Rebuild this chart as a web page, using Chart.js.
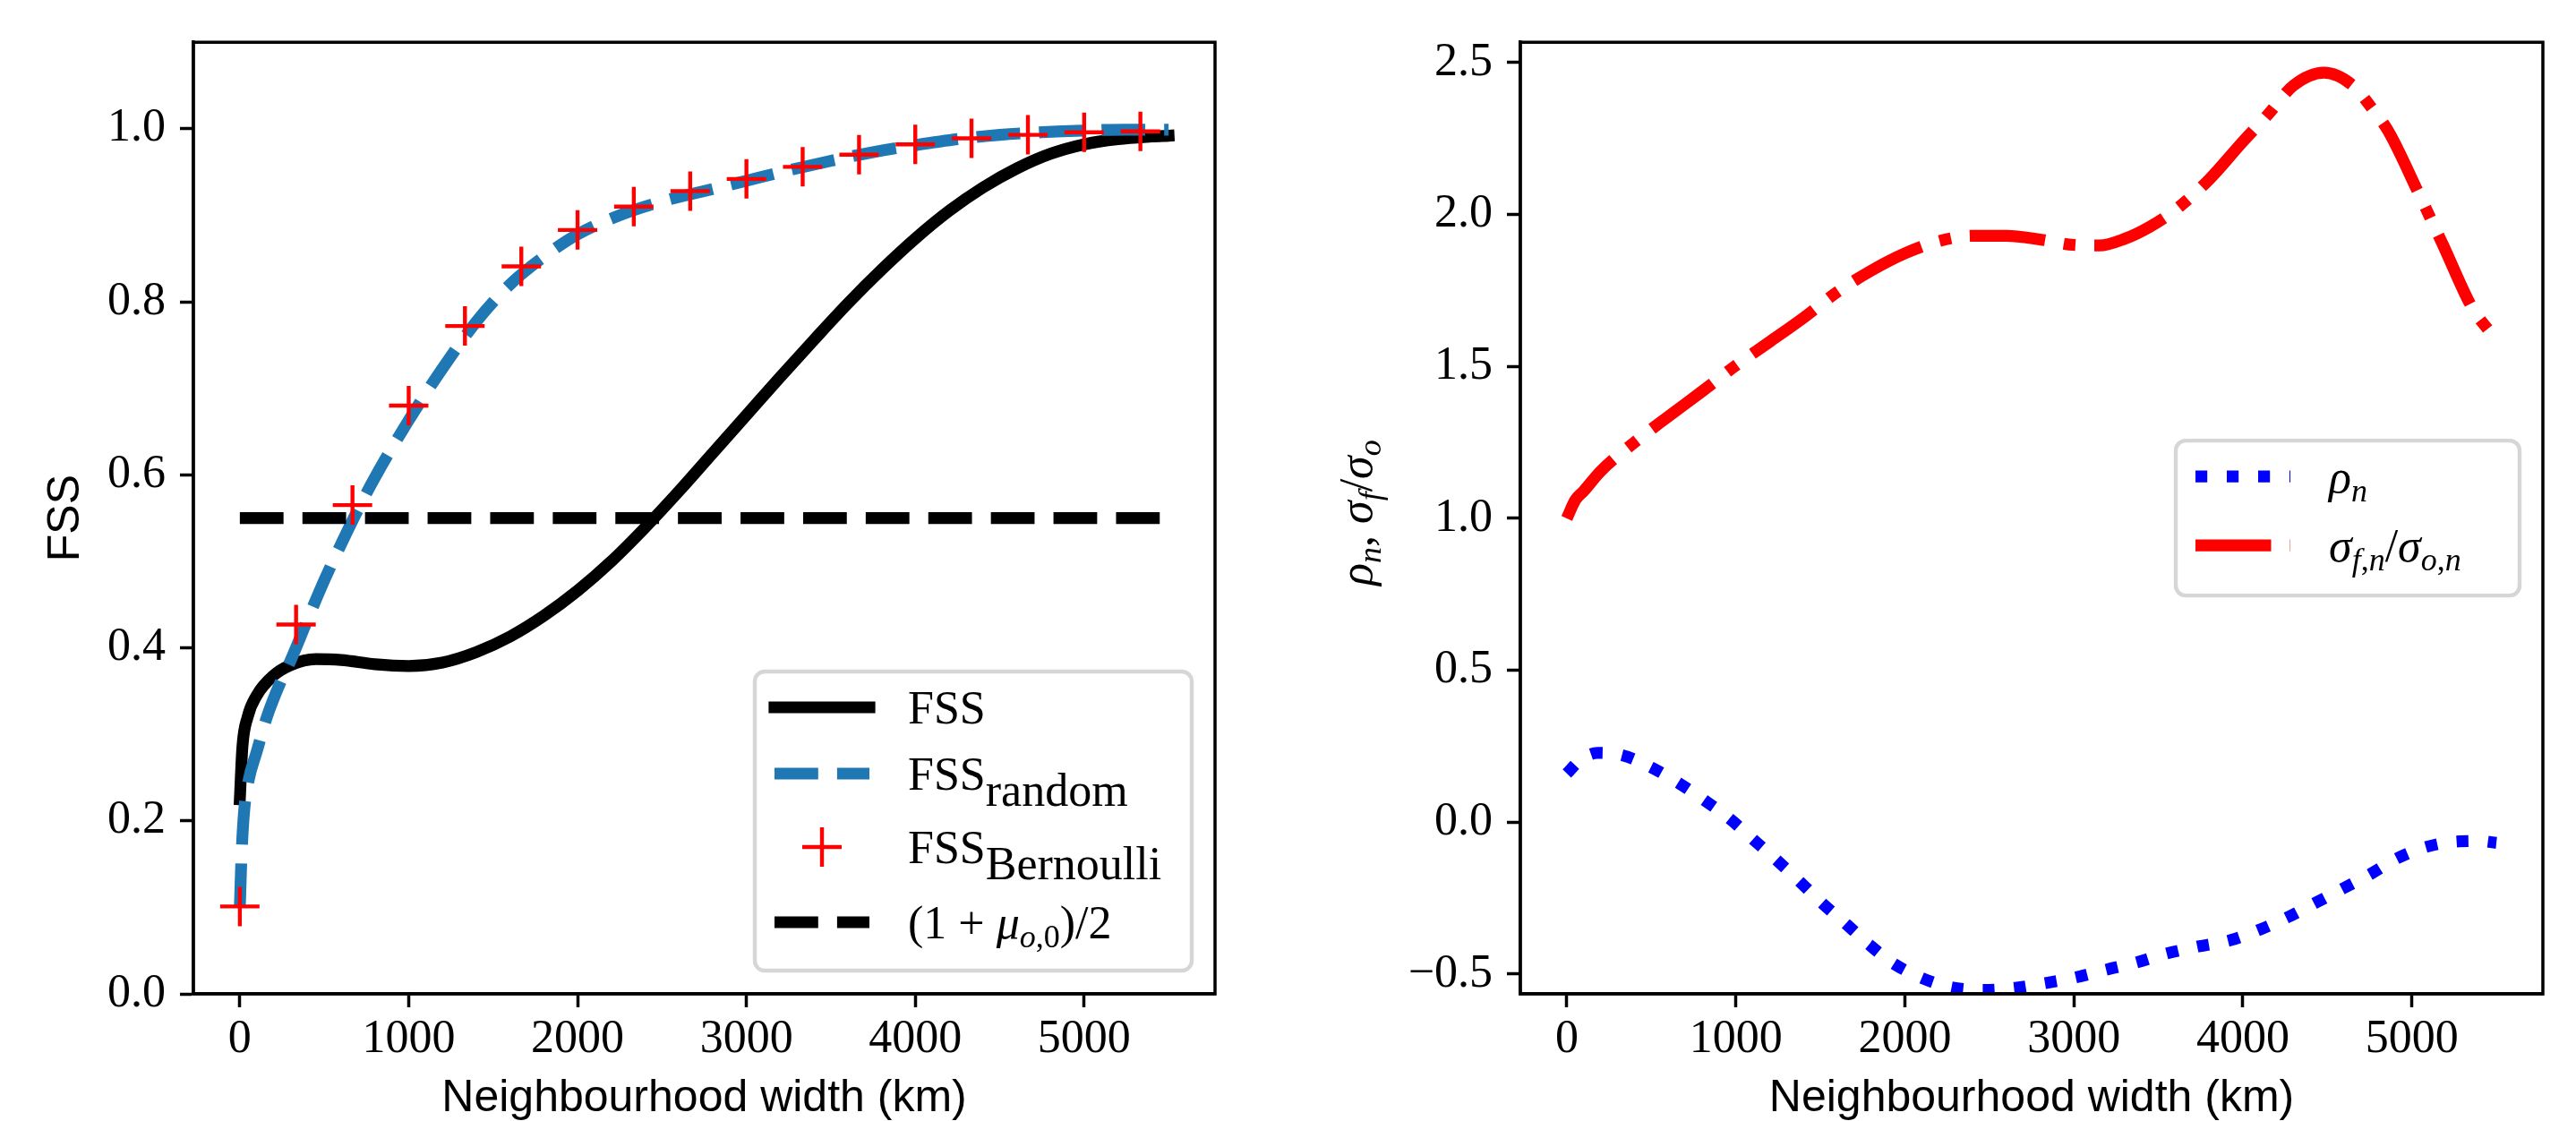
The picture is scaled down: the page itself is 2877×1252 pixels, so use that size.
<!DOCTYPE html>
<html>
<head>
<meta charset="utf-8">
<script src="https://cdn.jsdelivr.net/npm/chart.js@4.4.0/dist/chart.umd.min.js"></script>
<style>
  html, body { margin: 0; padding: 0; background: #fff; overflow: hidden; }
  #wrapL { position: absolute; left: 0; top: 0; width: 1440px; height: 1252px; }
  #wrapR { position: absolute; left: 1440px; top: 0; width: 1437px; height: 1252px; }
</style>
</head>
<body>
<div id="wrapL"><canvas id="fssChart"></canvas></div>
<div id="wrapR"><canvas id="ratioChart"></canvas></div>
<script>
// ---- left panel: FSS vs neighbourhood width ----
var fssX = [0, 15, 46, 100, 200, 300, 450, 600, 800, 1000, 1200, 1400, 1600, 1800, 2000, 2200, 2400, 2600, 2800, 3000, 3200, 3400, 3600, 3800, 4000, 4200, 4400, 4600, 4800, 5000, 5200, 5400, 5500];
var fssY = [0.225, 0.285, 0.32, 0.345, 0.368, 0.38, 0.387, 0.386, 0.381, 0.379, 0.383, 0.395, 0.413, 0.437, 0.466, 0.5, 0.539, 0.581, 0.625, 0.669, 0.713, 0.756, 0.798, 0.837, 0.873, 0.905, 0.932, 0.954, 0.971, 0.982, 0.988, 0.991, 0.992];

var randX = [0, 10, 25, 50, 100, 160, 240, 300, 400, 500, 600, 700, 800, 1000, 1200, 1400, 1600, 1800, 2000, 2250, 2500, 2750, 3000, 3250, 3500, 3750, 4000, 4250, 4500, 4750, 5000, 5250, 5500];
var randY = [0.10, 0.16, 0.21, 0.245, 0.28, 0.32, 0.36, 0.385, 0.432, 0.478, 0.52, 0.56, 0.597, 0.663, 0.723, 0.777, 0.82, 0.852, 0.878, 0.9, 0.916, 0.928, 0.94, 0.952, 0.963, 0.973, 0.981, 0.988, 0.993, 0.996, 0.998, 0.999, 0.999];

var bernX = [0, 333, 667, 1000, 1333, 1667, 2000, 2333, 2667, 3000, 3333, 3667, 4000, 4333, 4667, 5000, 5333];
var bernY = [0.101, 0.427, 0.565, 0.680, 0.772, 0.841, 0.883, 0.910, 0.928, 0.942, 0.956, 0.970, 0.982, 0.989, 0.993, 0.996, 0.997];

var refX = [0, 5500];
var refY = [0.55, 0.55]; // (1 + mu_o,0) / 2

// ---- right panel: rho_n and sigma ratio ----
var rhoX = [0, 80, 180, 330, 500, 670, 814, 960, 1103, 1242, 1377, 1508, 1654, 1789, 1924, 2097, 2270, 2470, 2654, 2828, 3002, 3195, 3369, 3543, 3736, 3929, 4102, 4257, 4431, 4593, 4760, 4913, 5087, 5282, 5400, 5500];
var rhoY = [0.16, 0.205, 0.228, 0.22, 0.18, 0.126, 0.072, 0.013, -0.057, -0.125, -0.195, -0.265, -0.336, -0.403, -0.462, -0.512, -0.543, -0.552, -0.545, -0.53, -0.512, -0.485, -0.462, -0.433, -0.409, -0.388, -0.353, -0.315, -0.265, -0.218, -0.169, -0.119, -0.081, -0.063, -0.062, -0.068];

var sigX = [0, 50, 100, 200, 400, 600, 800, 1000, 1200, 1400, 1600, 1800, 2000, 2200, 2400, 2600, 2800, 3000, 3150, 3300, 3450, 3600, 3800, 4000, 4150, 4300, 4480, 4650, 4770, 4860, 5040, 5180, 5360, 5460];
var sigY = [1.0, 1.06, 1.09, 1.155, 1.25, 1.335, 1.418, 1.503, 1.581, 1.66, 1.745, 1.815, 1.872, 1.912, 1.93, 1.93, 1.918, 1.90, 1.898, 1.92, 1.96, 2.015, 2.115, 2.24, 2.33, 2.425, 2.467, 2.425, 2.345, 2.275, 2.07, 1.905, 1.69, 1.615];

// ---- axes ----
var xTicks = [0, 1000, 2000, 3000, 4000, 5000];
var fssTicks = [0, 0.2, 0.4, 0.6, 0.8, 1.0];
var ratioTicks = [-0.5, 0, 0.5, 1.0, 1.5, 2.0, 2.5];
var xRange = [-275, 5775];
var fssRange = [0, 1.1];
var ratioRange = [-0.565, 2.567];

var SERIF = '"Liberation Serif", "DejaVu Serif", serif';
var SANS = '"Liberation Sans", Arial, sans-serif';
var LW = 13.2; // line width in px
var TXT = 52;  // 12pt at this resolution

Chart.defaults.color = '#000';

function pts(xs, ys) {
    return xs.map(function (x, i) { return { x: x, y: ys[i] }; });
}

function fixedTicks(vals) {
    return function (scale) {
        scale.ticks = vals.map(function (v) { return { value: v }; });
    };
}

function curve(label, xs, ys, color, dash, cap, order) {
    return {
        label: label,
        data: pts(xs, ys),
        borderColor: color,
        backgroundColor: color,
        borderWidth: LW,
        borderDash: dash,
        borderCapStyle: cap || 'butt',
        pointRadius: 0,
        pointHoverRadius: 0,
        cubicInterpolationMode: 'monotone',
        fill: false,
        clip: 0,
        order: order
    };
}

function xAxis() {
    return {
        type: 'linear',
        min: xRange[0], max: xRange[1],
        afterBuildTicks: fixedTicks(xTicks),
        afterFit: function (s) { s.height = 142; },
        border: { display: true, color: '#000', width: 3.5 },
        grid: { display: true, drawOnChartArea: false, drawTicks: true, tickLength: 15, tickWidth: 3.5, tickColor: '#000' },
        ticks: {
            autoSkip: false, maxRotation: 0, padding: 5,
            font: { family: SERIF, size: TXT },
            callback: function (v) { return String(v); }
        },
        title: {
            display: true, text: 'Neighbourhood width (km)',
            font: { family: SANS, size: 50, lineHeight: 1 },
            padding: { top: 0, bottom: 0 }
        }
    };
}

function yAxis(range, vals, width, fmt, title) {
    return {
        type: 'linear',
        min: range[0], max: range[1],
        afterBuildTicks: fixedTicks(vals),
        afterFit: function (s) { s.width = width; },
        border: { display: true, color: '#000', width: 3.5 },
        grid: { display: true, drawOnChartArea: false, drawTicks: true, tickLength: 15, tickWidth: 3.5, tickColor: '#000' },
        ticks: {
            autoSkip: false, padding: 16,
            font: { family: SERIF, size: TXT },
            callback: fmt
        },
        title: title
    };
}

// box around the axes (matplotlib spines)
var frameBox = {
    id: 'frameBox',
    afterDatasetsDraw: function (chart) {
        var a = chart.chartArea, ctx = chart.ctx;
        ctx.save();
        ctx.strokeStyle = '#000';
        ctx.lineWidth = 3.5;
        ctx.strokeRect(a.left, a.top, a.right - a.left, a.bottom - a.top);
        ctx.restore();
    }
};

// math-ish text: runs of [text, style]
var runStyle = {
    r: { it: false, k: 1, dy: 0 },
    i: { it: true, k: 1, dy: 0 },
    s: { it: false, k: 1, dy: 18 },
    si: { it: true, k: 0.7, dy: 10 },
    sr: { it: false, k: 0.7, dy: 10 }
};

function setRunFont(ctx, st, size) {
    ctx.font = (st.it ? 'italic ' : '') + Math.round(size * st.k) + 'px ' + SERIF;
}

function mathWidth(ctx, runs, size) {
    var w = 0;
    runs.forEach(function (r) {
        setRunFont(ctx, runStyle[r[1]], size);
        w += ctx.measureText(r[0]).width;
    });
    return w;
}

function drawMath(ctx, runs, x, y, size) {
    var cx = x;
    ctx.textBaseline = 'alphabetic';
    ctx.textAlign = 'left';
    runs.forEach(function (r) {
        var st = runStyle[r[1]];
        setRunFont(ctx, st, size);
        ctx.fillText(r[0], cx, y + st.dy);
        cx += ctx.measureText(r[0]).width;
    });
}

// legend drawn by hand so the sub-scripts can be typeset
function mathLegend(spec) {
    return {
        id: 'mathLegend',
        afterDraw: function (chart) {
            var a = chart.chartArea, ctx = chart.ctx;
            var right = a.right - 26;
            var left = right - spec.w;
            var top = spec.vcenter ? (a.top + a.bottom) / 2 - spec.h / 2 : a.bottom - 26 - spec.h;
            ctx.save();
            ctx.beginPath();
            ctx.roundRect(left, top, spec.w, spec.h, 11);
            ctx.fillStyle = 'rgba(255,255,255,0.8)';
            ctx.fill();
            ctx.lineWidth = 4.4;
            ctx.strokeStyle = '#d6d6d6';
            ctx.stroke();

            spec.rows.forEach(function (row) {
                var ds = chart.data.datasets[row.ds];
                var y = top + row.dy;
                var hx = left + 22;
                ctx.save();
                if (ds.showLine === false) {
                    var cx = hx + 53, r = ds.pointRadius;
                    ctx.strokeStyle = ds.pointBorderColor;
                    ctx.lineWidth = ds.pointBorderWidth;
                    ctx.beginPath();
                    ctx.moveTo(cx - r, y); ctx.lineTo(cx + r, y);
                    ctx.moveTo(cx, y - r); ctx.lineTo(cx, y + r);
                    ctx.stroke();
                } else {
                    ctx.strokeStyle = ds.borderColor;
                    ctx.lineWidth = ds.borderWidth;
                    ctx.lineCap = ds.borderCapStyle;
                    ctx.setLineDash(ds.borderDash);
                    ctx.beginPath();
                    ctx.moveTo(hx, y); ctx.lineTo(hx + 106, y);
                    ctx.stroke();
                }
                ctx.restore();
                ctx.fillStyle = '#000';
                drawMath(ctx, row.text, left + 171, y + 18, TXT);
            });
            ctx.restore();
        }
    };
}

// rotated math y label for the right panel
var ratioYLabel = {
    id: 'ratioYLabel',
    afterDraw: function (chart) {
        var a = chart.chartArea, ctx = chart.ctx;
        var runs = [['\u03c1', 'i'], ['n', 'si'], [', ', 'r'], ['\u03c3', 'i'], ['f', 'si'], ['/', 'r'], ['\u03c3', 'i'], ['o', 'si']];
        ctx.save();
        ctx.fillStyle = '#000';
        ctx.translate(92, (a.top + a.bottom) / 2 - 6);
        ctx.rotate(-Math.PI / 2);
        var w = mathWidth(ctx, runs, TXT);
        drawMath(ctx, runs, -w / 2, 0, TXT);
        ctx.restore();
    }
};

var fssSets = [
    curve('FSS', fssX, fssY, '#000000', [], 'square', 4),
    curve('FSS random', randX, randY, '#1f77b4', [48.8, 21.1], 'butt', 3),
    {
        label: 'FSS Bernoulli',
        data: pts(bernX, bernY),
        showLine: false,
        pointStyle: 'cross',
        pointRadius: 22,
        pointHoverRadius: 22,
        pointBorderColor: '#ff0000',
        pointBackgroundColor: '#ff0000',
        pointBorderWidth: 4.4,
        borderColor: '#ff0000',
        clip: 0,
        order: 2
    },
    curve('(1 + mu_o,0)/2', refX, refY, '#000000', [48.8, 21.1], 'butt', 1)
];

new Chart(document.getElementById('fssChart'), {
    type: 'line',
    data: { datasets: fssSets },
    options: {
        responsive: true,
        maintainAspectRatio: false,
        animation: false,
        devicePixelRatio: 1,
        layout: { padding: { left: 0, top: 42, right: 83, bottom: 0 } },
        plugins: { legend: { display: false }, tooltip: { enabled: false } },
        scales: {
            x: xAxis(),
            y: yAxis(fssRange, fssTicks, 216, function (v) { return v.toFixed(1); }, {
                display: true, text: 'FSS',
                font: { family: SANS, size: 50, lineHeight: 1 },
                padding: { top: 49, bottom: 0 }
            })
        }
    },
    plugins: [frameBox, mathLegend({
        w: 488, h: 334, vcenter: false,
        rows: [
            { ds: 0, dy: 40, text: [['FSS', 'r']] },
            { ds: 1, dy: 114, text: [['FSS', 'r'], ['random', 's']] },
            { ds: 2, dy: 196, text: [['FSS', 'r'], ['Bernoulli', 's']] },
            { ds: 3, dy: 280, text: [['(1 + ', 'r'], ['\u03bc', 'i'], ['o', 'si'], [',0', 'sr'], [')/2', 'r']] }
        ]
    })]
});

new Chart(document.getElementById('ratioChart'), {
    type: 'line',
    data: {
        datasets: [
            curve('rho_n', rhoX, rhoY, '#0000ff', [13.2, 21.8], 'butt', 2),
            curve('sigma_f,n / sigma_o,n', sigX, sigY, '#ff0000', [84.5, 21.1, 13.2, 21.1], 'butt', 1)
        ]
    },
    options: {
        responsive: true,
        maintainAspectRatio: false,
        animation: false,
        devicePixelRatio: 1,
        layout: { padding: { left: 0, top: 42, right: 37, bottom: 0 } },
        plugins: { legend: { display: false }, tooltip: { enabled: false } },
        scales: {
            x: xAxis(),
            y: yAxis(ratioRange, ratioTicks, 258, function (v) {
                return (v < 0 ? '\u2212' : '') + Math.abs(v).toFixed(1);
            }, { display: false })
        }
    },
    plugins: [frameBox, ratioYLabel, mathLegend({
        w: 384, h: 173, vcenter: true,
        rows: [
            { ds: 0, dy: 40, text: [['\u03c1', 'i'], ['n', 'si']] },
            { ds: 1, dy: 117, text: [['\u03c3', 'i'], ['f', 'si'], [',', 'sr'], ['n', 'si'], ['/', 'r'], ['\u03c3', 'i'], ['o', 'si'], [',', 'sr'], ['n', 'si']] }
        ]
    })]
});
</script>
</body>
</html>
